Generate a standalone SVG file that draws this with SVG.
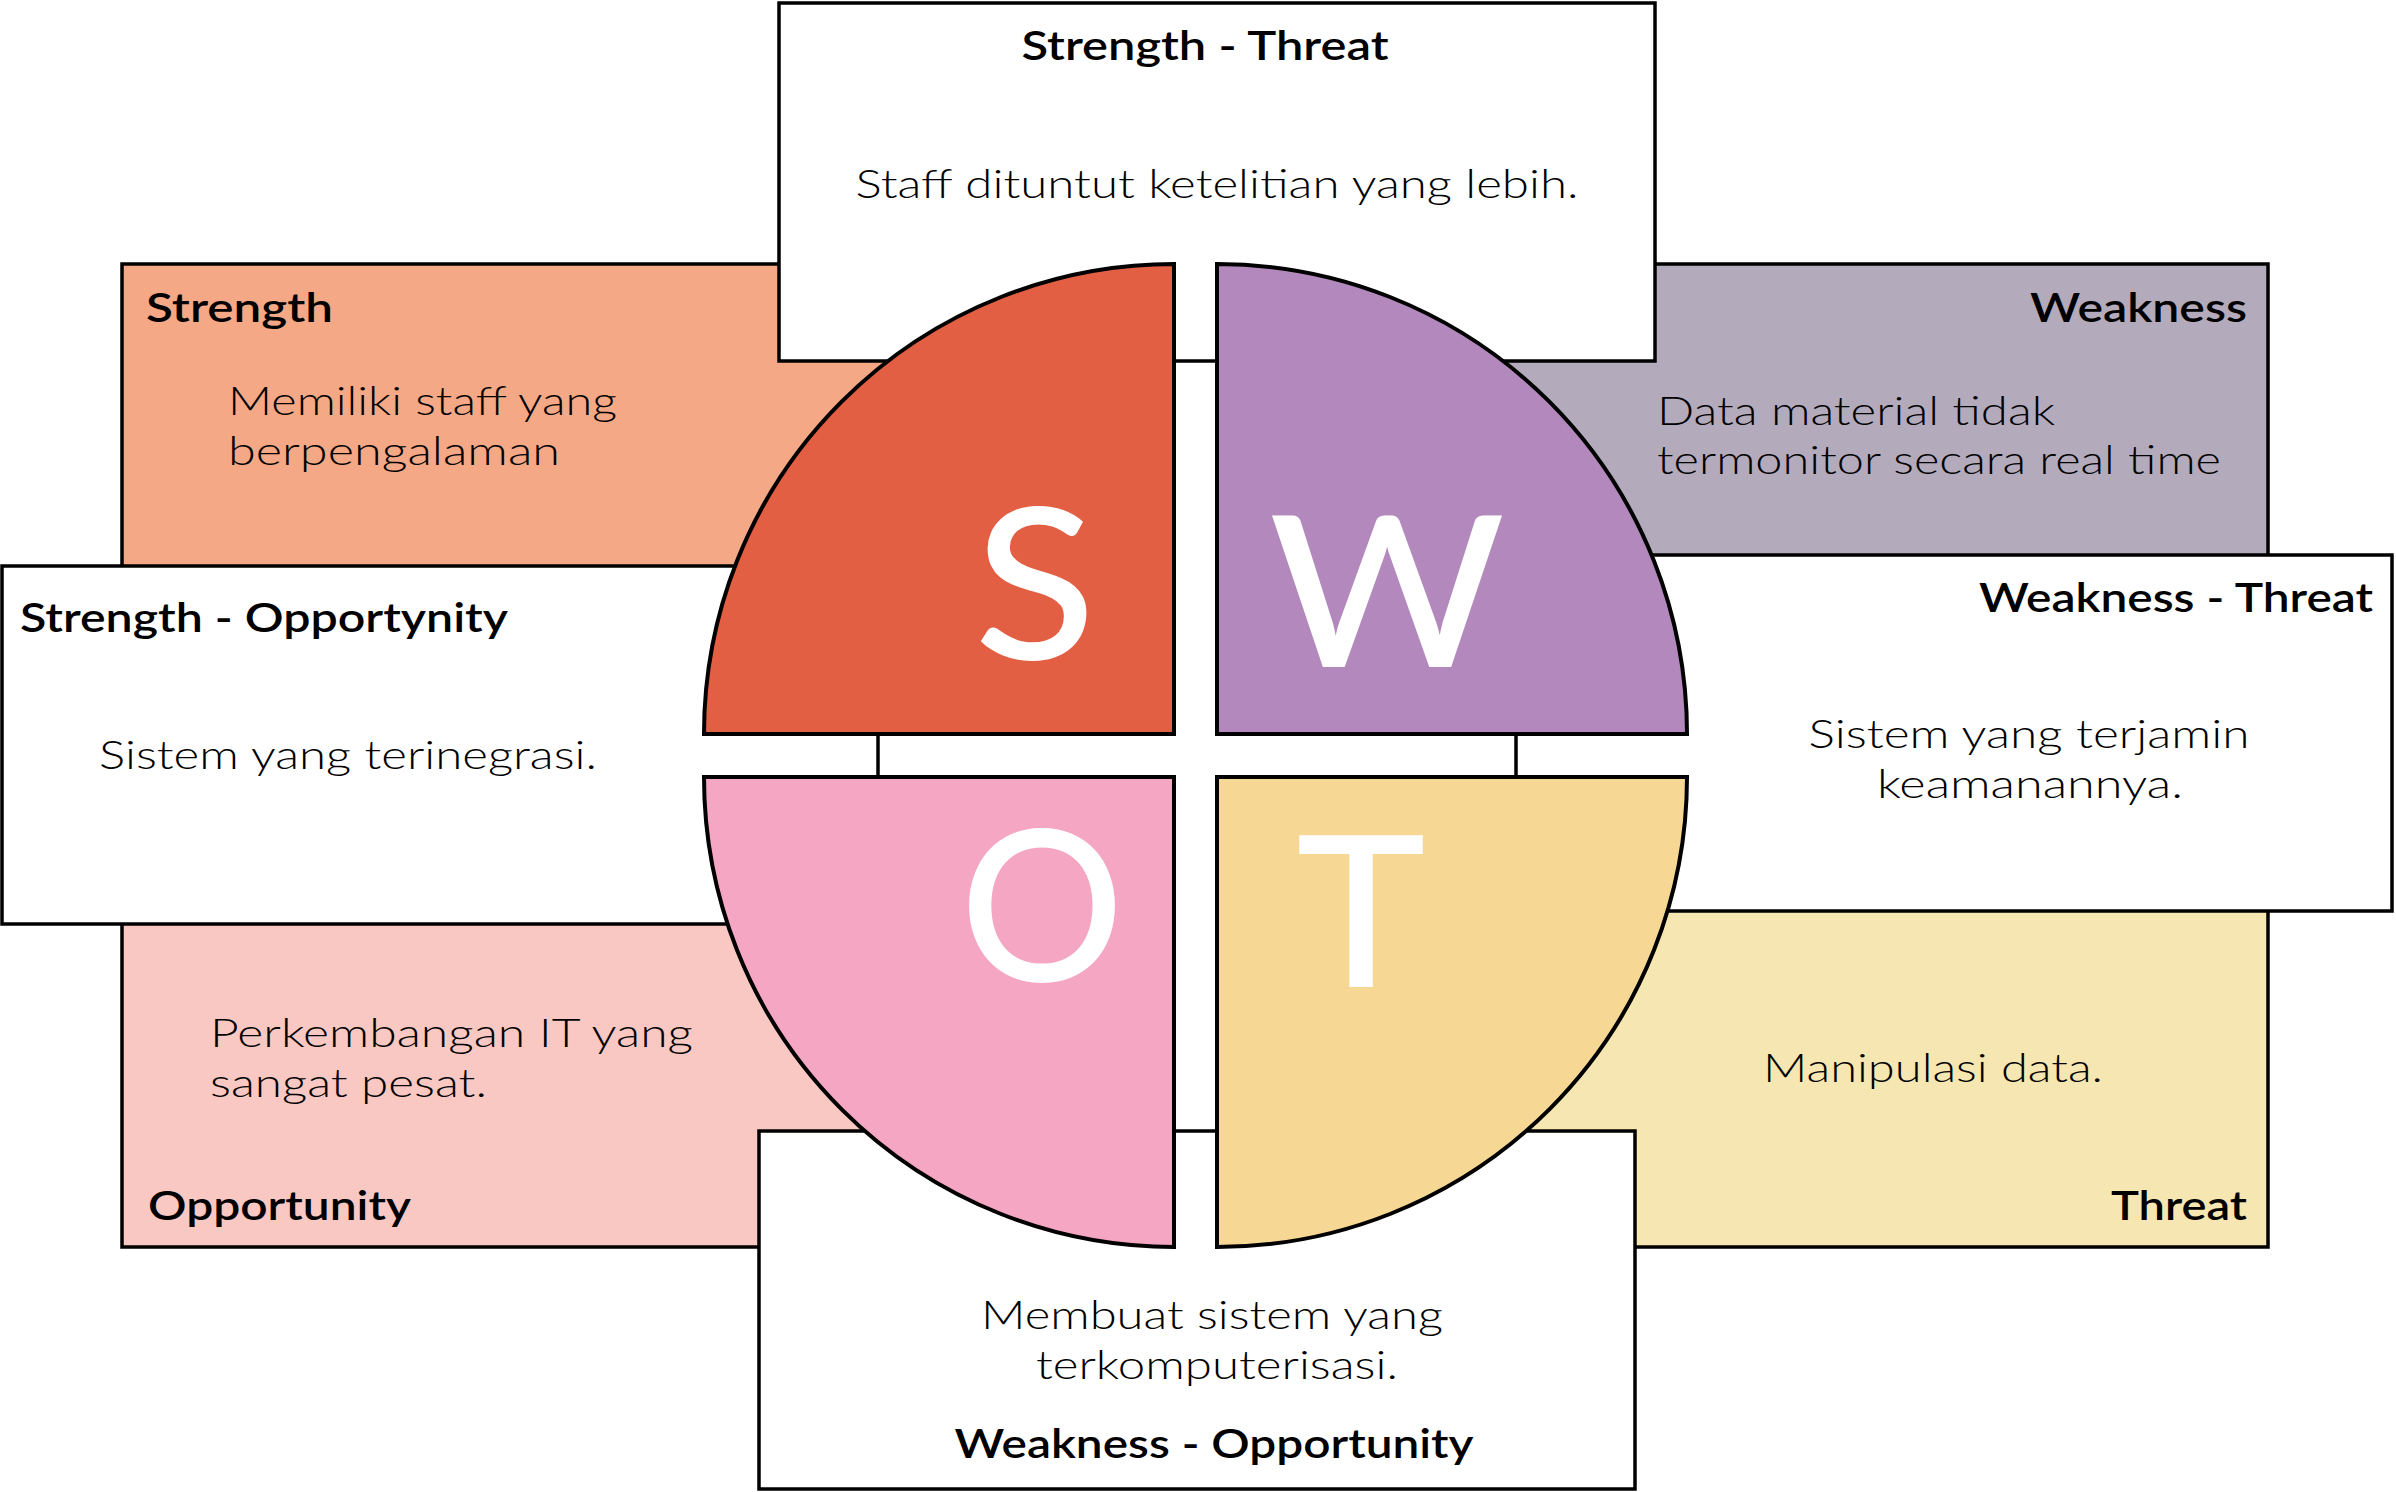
<svg xmlns="http://www.w3.org/2000/svg" width="2396" height="1492" viewBox="0 0 2396 1492">
<style>
.bg{fill:#ffffff}
.box{stroke:#000;stroke-width:3.5}
.wbox{fill:#ffffff;stroke:#000;stroke-width:3.5}
.q{stroke:#000;stroke-width:4;stroke-linejoin:miter}
.h{font-family:Lato,"Liberation Sans",sans-serif;font-weight:600;font-size:40px;fill:#000}
.b{font-family:Lato,"Liberation Sans",sans-serif;font-weight:300;font-size:40px;fill:#000}
.big{font-family:Lato,"Liberation Sans",sans-serif;font-weight:500;font-size:211px;fill:#fff}
</style>
<rect class="bg" x="0" y="0" width="2396" height="1492"/>

<g id="strength">
<rect class="box" x="122" y="264" width="900" height="400" fill="#F4A886"/>
<text class="h" x="146" y="322" textLength="187" lengthAdjust="spacingAndGlyphs">Strength</text>
<text class="b" x="228" y="415" textLength="389" lengthAdjust="spacingAndGlyphs">Memiliki staff yang</text>
<text class="b" x="228" y="465" textLength="332" lengthAdjust="spacingAndGlyphs">berpengalaman</text>
</g>
<g id="weakness">
<rect class="box" x="1368" y="264" width="900" height="400" fill="#B3ABBC"/>
<text class="h" x="2030" y="322" textLength="217" lengthAdjust="spacingAndGlyphs">Weakness</text>
<text class="b" x="1657" y="425" textLength="398" lengthAdjust="spacingAndGlyphs">Data material tidak</text>
<text class="b" x="1657" y="474" textLength="564" lengthAdjust="spacingAndGlyphs">termonitor secara real time</text>
</g>
<g id="opportunity">
<rect class="box" x="122" y="847" width="900" height="400" fill="#F9C8C2"/>
<text class="b" x="210" y="1047" textLength="483" lengthAdjust="spacingAndGlyphs">Perkembangan IT yang</text>
<text class="b" x="210" y="1097" textLength="277" lengthAdjust="spacingAndGlyphs">sangat pesat.</text>
<text class="h" x="148" y="1220" textLength="263" lengthAdjust="spacingAndGlyphs">Opportunity</text>
</g>
<g id="threat">
<rect class="box" x="1368" y="847" width="900" height="400" fill="#F6E6B1"/>
<text class="b" x="1933" y="1082" text-anchor="middle" textLength="340" lengthAdjust="spacingAndGlyphs">Manipulasi data.</text>
<text class="h" x="2111" y="1220" textLength="136" lengthAdjust="spacingAndGlyphs">Threat</text>
</g>

<g id="strength-threat">
<rect class="wbox" x="779" y="3" width="876" height="358"/>
<text class="h" x="1205" y="60" text-anchor="middle" textLength="367" lengthAdjust="spacingAndGlyphs">Strength - Threat</text>
<text class="b" x="1217" y="198" text-anchor="middle" textLength="723" lengthAdjust="spacingAndGlyphs">Staff dituntut ketelitian yang lebih.</text>
</g>
<g id="strength-opportunity">
<rect class="wbox" x="2" y="566" width="876" height="358"/>
<text class="h" x="20" y="632" textLength="488" lengthAdjust="spacingAndGlyphs">Strength - Opportynity</text>
<text class="b" x="99" y="769" textLength="498" lengthAdjust="spacingAndGlyphs">Sistem yang terinegrasi.</text>
</g>
<g id="weakness-threat">
<rect class="wbox" x="1516" y="555" width="876" height="356"/>
<text class="h" x="1979" y="612" textLength="394" lengthAdjust="spacingAndGlyphs">Weakness - Threat</text>
<text class="b" x="2029" y="748" text-anchor="middle" textLength="441" lengthAdjust="spacingAndGlyphs">Sistem yang terjamin</text>
<text class="b" x="2030" y="798" text-anchor="middle" textLength="306" lengthAdjust="spacingAndGlyphs">keamanannya.</text>
</g>
<g id="weakness-opportunity">
<rect class="wbox" x="759" y="1131" width="876" height="358"/>
<text class="b" x="1212" y="1329" text-anchor="middle" textLength="462" lengthAdjust="spacingAndGlyphs">Membuat sistem yang</text>
<text class="b" x="1217" y="1379" text-anchor="middle" textLength="362" lengthAdjust="spacingAndGlyphs">terkomputerisasi.</text>
<text class="h" x="1214" y="1458" text-anchor="middle" textLength="519" lengthAdjust="spacingAndGlyphs">Weakness - Opportunity</text>
</g>

<g id="quadrant-s">
<path class="q" fill="#E35F43" d="M1174 734 L704 734 A470 470 0 0 1 1174 264 Z"/>
<text class="big" x="1035" y="659" text-anchor="middle" textLength="122" lengthAdjust="spacingAndGlyphs">S</text>
</g>
<g id="quadrant-w">
<path class="q" fill="#B388BC" d="M1217 734 L1217 264 A470 470 0 0 1 1687 734 Z"/>
<text class="big" x="1387" y="667" text-anchor="middle" textLength="236" lengthAdjust="spacingAndGlyphs">W</text>
</g>
<g id="quadrant-o">
<path class="q" fill="#F5A6C2" d="M1174 777 L1174 1247 A470 470 0 0 1 704 777 Z"/>
<text class="big" x="1042" y="981" text-anchor="middle" textLength="164" lengthAdjust="spacingAndGlyphs">O</text>
</g>
<g id="quadrant-t">
<path class="q" fill="#F7D794" d="M1217 777 L1687 777 A470 470 0 0 1 1217 1247 Z"/>
<text class="big" x="1361" y="987" text-anchor="middle" textLength="130" lengthAdjust="spacingAndGlyphs">T</text>
</g>
</svg>
